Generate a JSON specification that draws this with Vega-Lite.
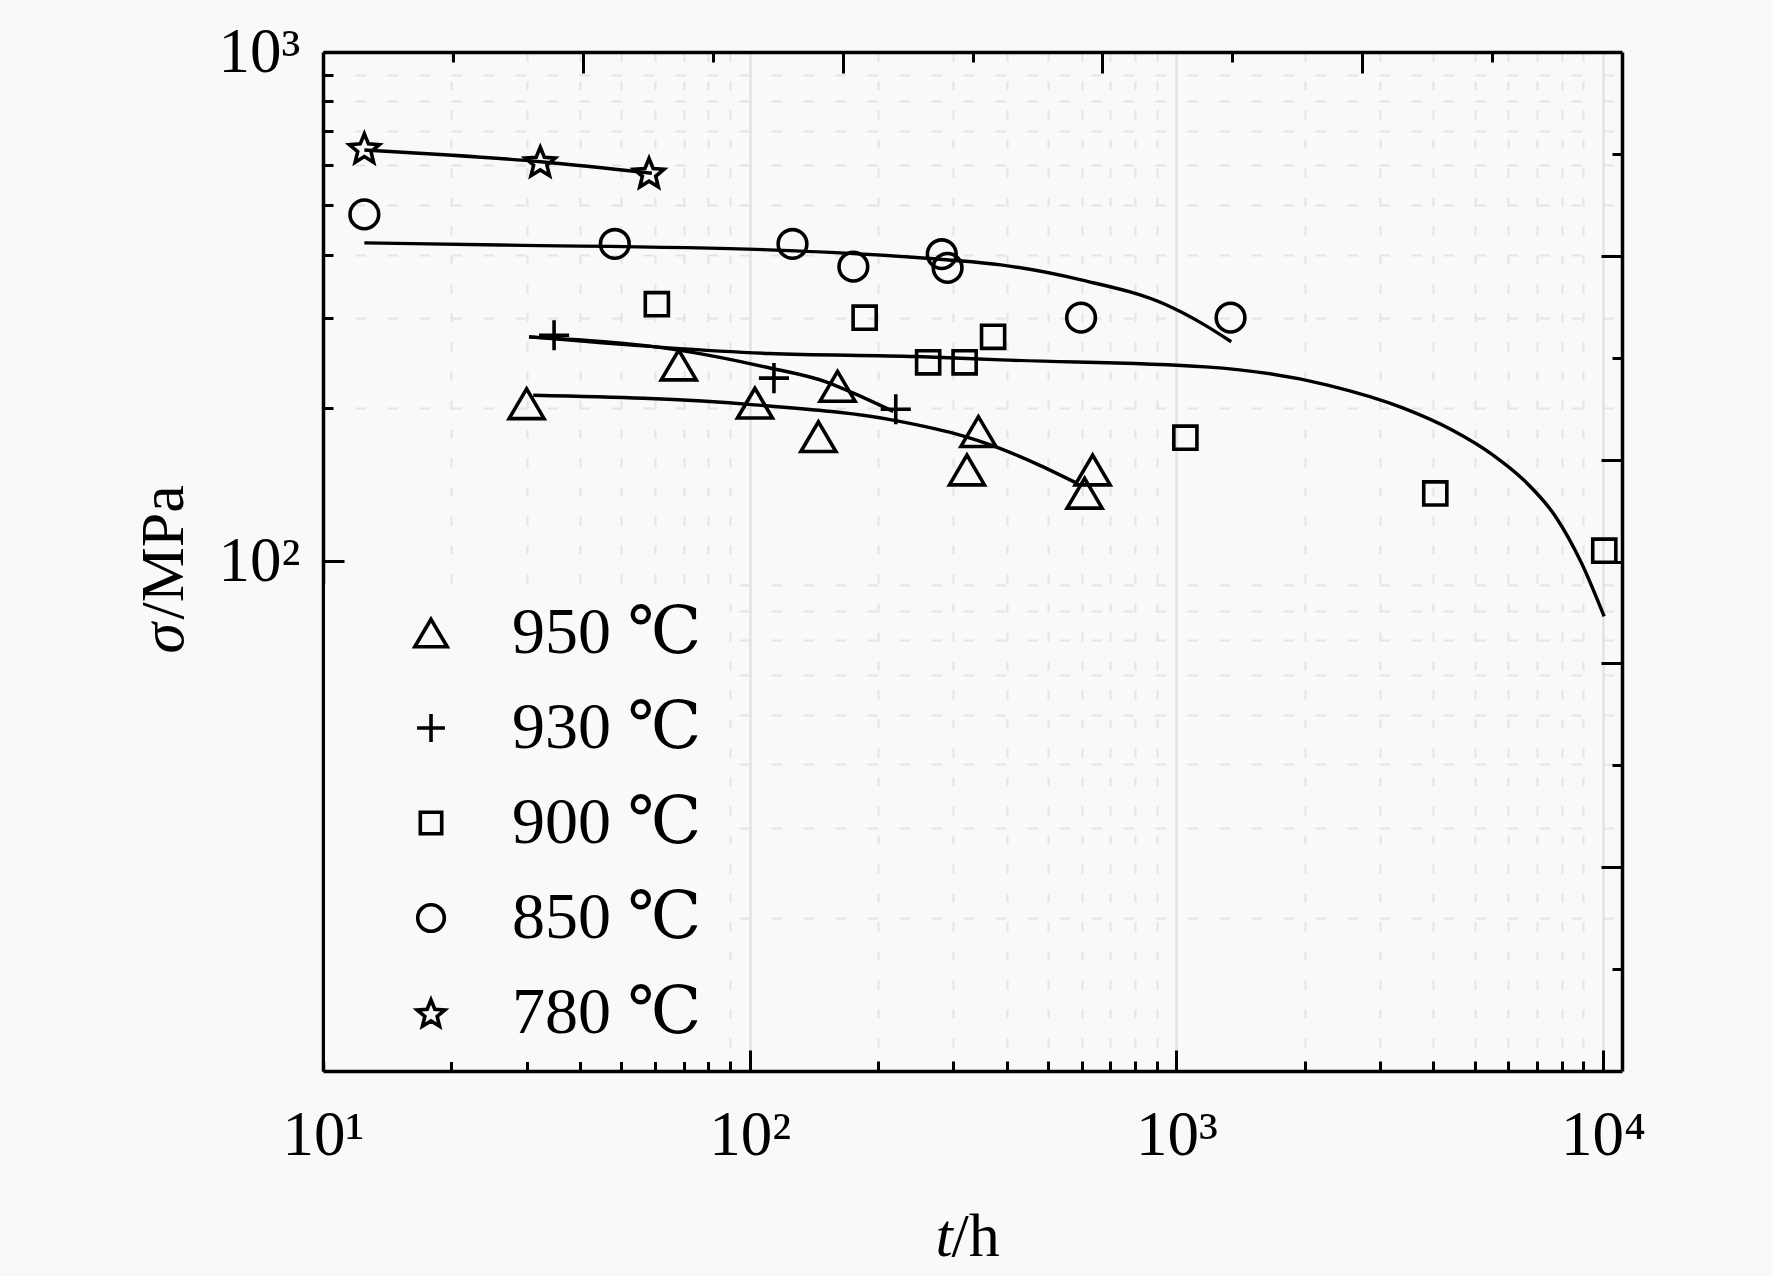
{
  "$schema": "https://vega.github.io/schema/vega-lite/v6.json",
  "width": 1299,
  "height": 1019,
  "autosize": {"type": "none"},
  "padding": {"left": 323, "top": 52, "right": 150, "bottom": 205},
  "background": "#f9f9f9",
  "datasets": {
    "fits": [
      {"series": "780 ℃", "t": 12.5, "sigma": 642},
      {"series": "780 ℃", "t": 19.7, "sigma": 628},
      {"series": "780 ℃", "t": 32.4, "sigma": 609},
      {"series": "780 ℃", "t": 59, "sigma": 578},
      {"series": "850 ℃", "t": 12.5, "sigma": 422},
      {"series": "850 ℃", "t": 26, "sigma": 418},
      {"series": "850 ℃", "t": 111, "sigma": 409},
      {"series": "850 ℃", "t": 289, "sigma": 391},
      {"series": "850 ℃", "t": 388, "sigma": 382},
      {"series": "850 ℃", "t": 598, "sigma": 357},
      {"series": "850 ℃", "t": 946, "sigma": 319},
      {"series": "850 ℃", "t": 1143, "sigma": 294},
      {"series": "850 ℃", "t": 1345, "sigma": 270},
      {"series": "900 ℃", "t": 30.4, "sigma": 276},
      {"series": "900 ℃", "t": 111, "sigma": 256},
      {"series": "900 ℃", "t": 245.6, "sigma": 252.5},
      {"series": "900 ℃", "t": 388, "sigma": 248.7},
      {"series": "900 ℃", "t": 1172, "sigma": 241},
      {"series": "900 ℃", "t": 2262, "sigma": 222},
      {"series": "900 ℃", "t": 3406, "sigma": 200},
      {"series": "900 ℃", "t": 4439, "sigma": 181},
      {"series": "900 ℃", "t": 5513, "sigma": 162},
      {"series": "900 ℃", "t": 6521, "sigma": 144.5},
      {"series": "900 ℃", "t": 7731, "sigma": 122.7},
      {"series": "900 ℃", "t": 8904, "sigma": 99.3},
      {"series": "900 ℃", "t": 10063, "sigma": 78},
      {"series": "930 ℃", "t": 30.4, "sigma": 276},
      {"series": "930 ℃", "t": 68.2, "sigma": 260},
      {"series": "930 ℃", "t": 111, "sigma": 240},
      {"series": "930 ℃", "t": 151.5, "sigma": 225},
      {"series": "930 ℃", "t": 175, "sigma": 214},
      {"series": "930 ℃", "t": 217, "sigma": 197},
      {"series": "950 ℃", "t": 31.1, "sigma": 212},
      {"series": "950 ℃", "t": 102.5, "sigma": 203},
      {"series": "950 ℃", "t": 220, "sigma": 189},
      {"series": "950 ℃", "t": 319, "sigma": 176},
      {"series": "950 ℃", "t": 369.5, "sigma": 169},
      {"series": "950 ℃", "t": 466, "sigma": 156},
      {"series": "950 ℃", "t": 584, "sigma": 142.5}
    ],
    "tests": [
      {"series": "780 ℃", "t": 12.5, "sigma": 648},
      {"series": "780 ℃", "t": 32.3, "sigma": 610},
      {"series": "780 ℃", "t": 58.1, "sigma": 580},
      {"series": "850 ℃", "t": 12.5, "sigma": 480},
      {"series": "850 ℃", "t": 48.3, "sigma": 420},
      {"series": "850 ℃", "t": 126, "sigma": 420},
      {"series": "850 ℃", "t": 175, "sigma": 379},
      {"series": "850 ℃", "t": 282, "sigma": 401},
      {"series": "850 ℃", "t": 291, "sigma": 377},
      {"series": "850 ℃", "t": 598, "sigma": 301},
      {"series": "850 ℃", "t": 1340, "sigma": 301},
      {"series": "900 ℃", "t": 60.6, "sigma": 320},
      {"series": "900 ℃", "t": 186, "sigma": 301},
      {"series": "900 ℃", "t": 262, "sigma": 246},
      {"series": "900 ℃", "t": 319, "sigma": 246},
      {"series": "900 ℃", "t": 372, "sigma": 276},
      {"series": "900 ℃", "t": 1050, "sigma": 175},
      {"series": "900 ℃", "t": 4045, "sigma": 136},
      {"series": "900 ℃", "t": 10070, "sigma": 105},
      {"series": "930 ℃", "t": 34.8, "sigma": 278},
      {"series": "930 ℃", "t": 114, "sigma": 229},
      {"series": "930 ℃", "t": 220, "sigma": 199},
      {"series": "950 ℃", "t": 30.0, "sigma": 204},
      {"series": "950 ℃", "t": 68.2, "sigma": 243},
      {"series": "950 ℃", "t": 102.9, "sigma": 204.6},
      {"series": "950 ℃", "t": 144.9, "sigma": 175.8},
      {"series": "950 ℃", "t": 160.7, "sigma": 220.7},
      {"series": "950 ℃", "t": 343.7, "sigma": 179.9},
      {"series": "950 ℃", "t": 323, "sigma": 151.2},
      {"series": "950 ℃", "t": 636.5, "sigma": 151.2},
      {"series": "950 ℃", "t": 609.5, "sigma": 136.1}
    ]
  },
  "resolve": {
    "scale": {"x": "independent", "y": "independent"},
    "axis": {"x": "independent", "y": "independent"}
  },
  "layer": [
    {
      "resolve": {"axis": {"x": "independent", "y": "independent"}},
      "layer": [
        {
          "data": {"name": "fits"},
          "mark": {"type": "line", "interpolate": "monotone", "color": "black", "strokeWidth": 3.4},
          "encoding": {
            "x": {
              "field": "t", "type": "quantitative",
              "scale": {"type": "log", "domain": [10, 11080], "nice": false},
              "axis": {
                "orient": "bottom", "values": [10, 100, 1000, 10000], "tickSize": -21,
                "grid": true, "gridColor": "#e2e2e2", "gridWidth": 2.5,
                "labelExpr": "datum.value == 10 ? '10¹' : datum.value == 100 ? '10²' : datum.value == 1000 ? '10³' : '10⁴'",
                "labelBaseline": "top", "labelPadding": 54, "labelAlign": "center",
                "title": "/h", "titleX": 628, "titleY": 184, "titleAlign": "left", "titleBaseline": "alphabetic"
              }
            },
            "y": {
              "field": "sigma", "type": "quantitative",
              "scale": {"type": "log", "domain": [10, 1000], "nice": false},
              "axis": {
                "orient": "left", "values": [100, 1000], "tickSize": -21, "grid": false,
                "labelExpr": "datum.value == 100 ? '10²' : '10³'",
                "labelBaseline": "middle", "labelPadding": 44,
                "title": "/MPa", "titleX": -141, "titleY": 567, "titleAngle": 270,
                "titleAlign": "left", "titleBaseline": "alphabetic"
              }
            },
            "detail": {"field": "series"}
          }
        },
        {
          "data": {"name": "tests"},
          "mark": {"type": "point", "filled": false, "color": "black", "strokeWidth": 3.6, "size": 1225, "opacity": 1},
          "encoding": {
            "x": {
              "field": "t", "type": "quantitative",
              "axis": {
                "orient": "bottom",
                "values": [20, 30, 40, 50, 60, 70, 80, 90, 200, 300, 400, 500, 600, 700, 800, 900, 2000, 3000, 4000, 5000, 6000, 7000, 8000, 9000],
                "tickSize": -10, "labels": false, "domain": false,
                "grid": true, "gridColor": "#e4e4e4", "gridWidth": 2, "gridDash": [9, 20],
                "title": "t", "titleFontStyle": "italic", "titleX": 612, "titleY": 184,
                "titleAlign": "left", "titleBaseline": "alphabetic"
              }
            },
            "y": {
              "field": "sigma", "type": "quantitative",
              "axis": {
                "orient": "left",
                "values": [20, 30, 40, 50, 60, 70, 80, 90, 200, 300, 400, 500, 600, 700, 800, 900],
                "tickSize": -10, "labels": false, "domain": false,
                "grid": true, "gridColor": "#e4e4e4", "gridWidth": 2, "gridDash": [10, 22],
                "title": "σ", "titleFontStyle": "italic", "titleX": -141, "titleY": 601, "titleAngle": 270,
                "titleAlign": "left", "titleBaseline": "alphabetic"
              }
            },
            "shape": {
              "field": "series", "type": "nominal",
              "scale": {
                "domain": ["950 ℃", "930 ℃", "900 ℃", "850 ℃", "780 ℃"],
                "range": [
                  "M0,-0.85L-1,0.85L1,0.85Z",
                  "M-0.86,0H0.86M0,-0.86V0.86",
                  "M-0.66,-0.66H0.66V0.66H-0.66Z",
                  "M0.82,0A0.82,0.82,0,1,1,-0.82,0A0.82,0.82,0,1,1,0.82,0Z",
                  "M0,-0.81L0.235,-0.234L0.856,-0.188L0.38,0.214L0.529,0.818L0,0.49L-0.529,0.818L-0.38,0.214L-0.856,-0.188L-0.235,-0.234Z"
                ]
              },
              "legend": {
                "orient": "none", "legendX": 2, "legendY": 532, "title": null,
                "fillColor": "#f9f9f9", "padding": 16,
                "symbolSize": 1050, "symbolStrokeWidth": 3.6, "symbolStrokeColor": "black",
                "symbolFillColor": "transparent", "symbolOffset": 57,
                "labelFont": "Liberation Serif, DejaVu Serif", "labelFontSize": 66, "labelColor": "black",
                "labelOffset": 48, "labelBaseline": "middle", "rowPadding": 29, "labelLimit": 400
              }
            }
          }
        }
      ]
    },
    {
      "resolve": {"axis": {"x": "independent", "y": "independent"}},
      "layer": [
        {
          "data": {"values": [{}]},
          "mark": {"type": "point", "opacity": 0},
          "encoding": {
            "x": {
              "datum": 0.5, "type": "quantitative",
              "scale": {"domain": [0, 1], "nice": false, "zero": false},
              "axis": {"orient": "top", "values": [0.2, 0.4, 0.6, 0.8], "tickSize": -21, "labels": false, "grid": false, "title": null}
            },
            "y": {
              "datum": 0.5, "type": "quantitative",
              "scale": {"domain": [0, 1], "nice": false, "zero": false},
              "axis": {"orient": "right", "values": [0.2, 0.4, 0.6, 0.8], "tickSize": -21, "labels": false, "grid": false, "title": null}
            }
          }
        },
        {
          "data": {"values": [{}]},
          "mark": {"type": "point", "opacity": 0},
          "encoding": {
            "x": {
              "datum": 0.5, "type": "quantitative",
              "axis": {"orient": "top", "values": [0.1, 0.3, 0.5, 0.7, 0.9], "tickSize": -10, "labels": false, "domain": false, "grid": false, "title": null}
            },
            "y": {
              "datum": 0.5, "type": "quantitative",
              "axis": {"orient": "right", "values": [0.1, 0.3, 0.5, 0.7, 0.9], "tickSize": -10, "labels": false, "domain": false, "grid": false, "title": null}
            }
          }
        }
      ]
    }
  ],
  "config": {
    "view": {"stroke": null},
    "font": "Liberation Serif",
    "axis": {
      "domainColor": "black", "domainWidth": 3.5, "tickColor": "black", "tickWidth": 3,
      "labelColor": "black", "titleColor": "black",
      "labelFont": "Liberation Serif", "titleFont": "Liberation Serif",
      "labelFontSize": 63, "titleFontSize": 62, "titleFontWeight": "normal",
      "labelFlush": false, "labelOverlap": false
    }
  }
}
